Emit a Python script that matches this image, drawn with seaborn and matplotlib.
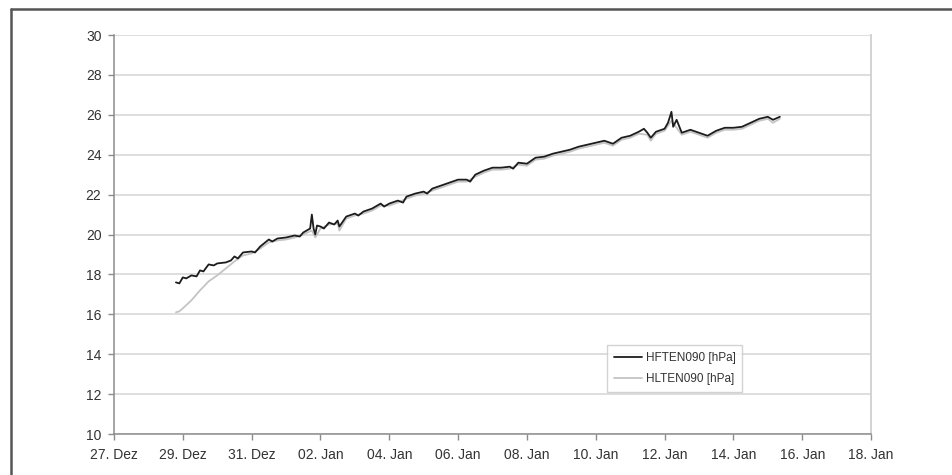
import matplotlib
matplotlib.use("Agg")
import matplotlib.pyplot as plt
from matplotlib.lines import Line2D
from matplotlib.ticker import FuncFormatter
import matplotlib.dates as mdates
import numpy as np
import pandas as pd
import seaborn as sns

# Pressure readings, time given in days after 27.12. 00:00
hf_days = [1.8, 1.9, 2.0, 2.1, 2.25, 2.4, 2.5, 2.6, 2.75, 2.9, 3.0, 3.25, 3.4, 3.5, 3.6,
           3.75, 4.0, 4.1, 4.25, 4.5, 4.6, 4.75, 5.0, 5.25, 5.4, 5.5, 5.7, 5.75, 5.8,
           5.85, 5.9, 6.0, 6.1, 6.25, 6.4, 6.5, 6.55, 6.75, 7.0, 7.1, 7.25, 7.5, 7.75,
           7.85, 8.0, 8.25, 8.4, 8.5, 8.75, 9.0, 9.1, 9.25, 9.5, 9.75, 10.0, 10.25,
           10.35, 10.5, 10.75, 11.0, 11.25, 11.5, 11.6, 11.75, 12.0, 12.25, 12.5,
           12.75, 13.0, 13.25, 13.5, 13.75, 14.0, 14.25, 14.5, 14.75, 15.0, 15.25,
           15.4, 15.5, 15.6, 15.75, 16.0, 16.1, 16.2, 16.25, 16.35, 16.5, 16.75,
           17.0, 17.25, 17.5, 17.75, 18.0, 18.25, 18.5, 18.75, 19.0, 19.15, 19.35]
hf_hpa = [17.6, 17.55, 17.85, 17.8, 17.95, 17.9, 18.2, 18.15, 18.5, 18.45, 18.55, 18.6,
          18.7, 18.9, 18.8, 19.1, 19.15, 19.1, 19.4, 19.75, 19.65, 19.8, 19.85, 19.95,
          19.9, 20.1, 20.3, 21.0, 20.3, 20.0, 20.45, 20.4, 20.3, 20.6, 20.5, 20.7,
          20.4, 20.9, 21.05, 20.95, 21.15, 21.3, 21.55, 21.4, 21.55, 21.7, 21.6, 21.9,
          22.05, 22.15, 22.05, 22.3, 22.45, 22.6, 22.75, 22.75, 22.65, 23.0, 23.2,
          23.35, 23.35, 23.4, 23.3, 23.6, 23.55, 23.85, 23.9, 24.05, 24.15, 24.25,
          24.4, 24.5, 24.6, 24.7, 24.55, 24.85, 24.95, 25.15, 25.3, 25.1, 24.85,
          25.15, 25.3, 25.6, 26.15, 25.4, 25.75, 25.1, 25.25, 25.1, 24.95, 25.2,
          25.35, 25.35, 25.4, 25.6, 25.8, 25.9, 25.75, 25.9]

hl_days = [1.8, 1.9, 2.0, 2.25, 2.5, 2.75, 3.0, 3.25, 3.5, 3.75, 4.0, 4.25, 4.5, 4.75,
           5.0, 5.25, 5.5, 5.75, 5.85, 6.0, 6.25, 6.5, 6.55, 6.75, 7.0, 7.25, 7.5,
           7.75, 8.0, 8.25, 8.5, 8.75, 9.0, 9.25, 9.5, 9.75, 10.0, 10.25, 10.5, 10.75,
           11.0, 11.25, 11.5, 11.75, 12.0, 12.25, 12.5, 12.75, 13.0, 13.25, 13.5,
           13.75, 14.0, 14.25, 14.5, 14.75, 15.0, 15.25, 15.5, 15.6, 15.75, 16.0,
           16.2, 16.5, 16.75, 17.0, 17.25, 17.5, 17.75, 18.0, 18.25, 18.5, 18.75,
           19.0, 19.15, 19.35]
hl_hpa = [16.1, 16.15, 16.3, 16.7, 17.2, 17.65, 17.95, 18.3, 18.65, 18.95, 19.05, 19.3,
          19.6, 19.7, 19.75, 19.85, 20.0, 20.2, 19.85, 20.3, 20.5, 20.55, 20.2, 20.8,
          20.95, 21.05, 21.2, 21.45, 21.45, 21.6, 21.8, 21.95, 22.05, 22.2, 22.35,
          22.5, 22.65, 22.65, 22.9, 23.1, 23.25, 23.25, 23.3, 23.5, 23.45, 23.75,
          23.8, 23.95, 24.05, 24.15, 24.3, 24.4, 24.5, 24.6, 24.45, 24.75, 24.85,
          25.05, 25.0, 24.7, 25.05, 25.2, 25.7, 25.0, 25.15, 25.0, 24.85, 25.1,
          25.25, 25.25, 25.3, 25.5, 25.7, 25.8, 25.6, 25.8]

series_names = ["HFTEN090 [hPa]", "HLTEN090 [hPa]"]
month_names = {12: "Dez", 1: "Jan"}
y_ticks = [10, 12, 14, 16, 18, 20, 22, 24, 26, 28, 30]

start = pd.Timestamp("2007-12-27")
tick_dates = pd.date_range("2007-12-27", "2008-01-18", freq="2D")

df = pd.concat([
    pd.DataFrame({"Zeit": start + pd.to_timedelta(hl_days, unit="D"),
                  "Druck": hl_hpa, "Reihe": series_names[1]}),
    pd.DataFrame({"Zeit": start + pd.to_timedelta(hf_days, unit="D"),
                  "Druck": hf_hpa, "Reihe": series_names[0]}),
], ignore_index=True)

sns.set_theme(style="white")
plt.rcParams["font.family"] = ["Liberation Sans", "DejaVu Sans"]

fig = plt.figure(figsize=(9.53, 4.75), dpi=100)
ax = fig.add_axes([0.1196, 0.0863, 0.7944, 0.84])

palette = {series_names[0]: "#1c1c1c", series_names[1]: "#c4c4c4"}
sns.lineplot(data=df, x="Zeit", y="Druck", hue="Reihe", palette=palette,
             linewidth=1.3, ax=ax, legend=False, sort=False, estimator=None)

ax.set_xlim(tick_dates[0], tick_dates[-1])
ax.set_ylim(10, 30)
ax.set_yticks(y_ticks)
ax.set_xticks(tick_dates)
ax.xaxis.set_major_formatter(FuncFormatter(
    lambda v, pos: "{:02d}. {}".format(mdates.num2date(v).day,
                                       month_names[mdates.num2date(v).month])))
ax.set_xlabel("")
ax.set_ylabel("")

ax.grid(axis="y", color="#d4d4d4", linewidth=1.1)
ax.set_axisbelow(True)
for side in ["left", "bottom"]:
    ax.spines[side].set_color("#8c8c8c")
    ax.spines[side].set_linewidth(1.1)
ax.spines["right"].set_color("#d0d0d0")
ax.spines["right"].set_linewidth(1.3)
ax.spines["top"].set_visible(False)

ax.tick_params(axis="both", which="major", direction="out", length=4, width=1,
               color="#8c8c8c", labelsize=10, labelcolor="#333333",
               bottom=True, left=True)
ax.tick_params(axis="x", pad=6)
ax.tick_params(axis="y", pad=5)

handles = [Line2D([], [], color=palette[n], linewidth=1.3) for n in series_names]
leg = ax.legend(handles, series_names, loc="lower left",
                bbox_to_anchor=(0.651, 0.105, 0.179, 0.121), mode="expand",
                fontsize=8.5, frameon=True, fancybox=False, handlelength=2.4,
                handletextpad=0.3, borderpad=0.6, labelspacing=0.75,
                borderaxespad=0)
leg.get_frame().set_edgecolor("#c8c8c8")
leg.get_frame().set_linewidth(1.0)
for t in leg.get_texts():
    t.set_color("#333333")

# outer chart frame (top and left edges inside the image)
fig.add_artist(Line2D([11 / 953, 1.0], [1 - 9 / 475, 1 - 9 / 475],
                      transform=fig.transFigure, color="#555555", linewidth=1.8))
fig.add_artist(Line2D([11 / 953, 11 / 953], [0.0, 1 - 9 / 475],
                      transform=fig.transFigure, color="#555555", linewidth=1.8))

fig.savefig("out.png", dpi=100)
